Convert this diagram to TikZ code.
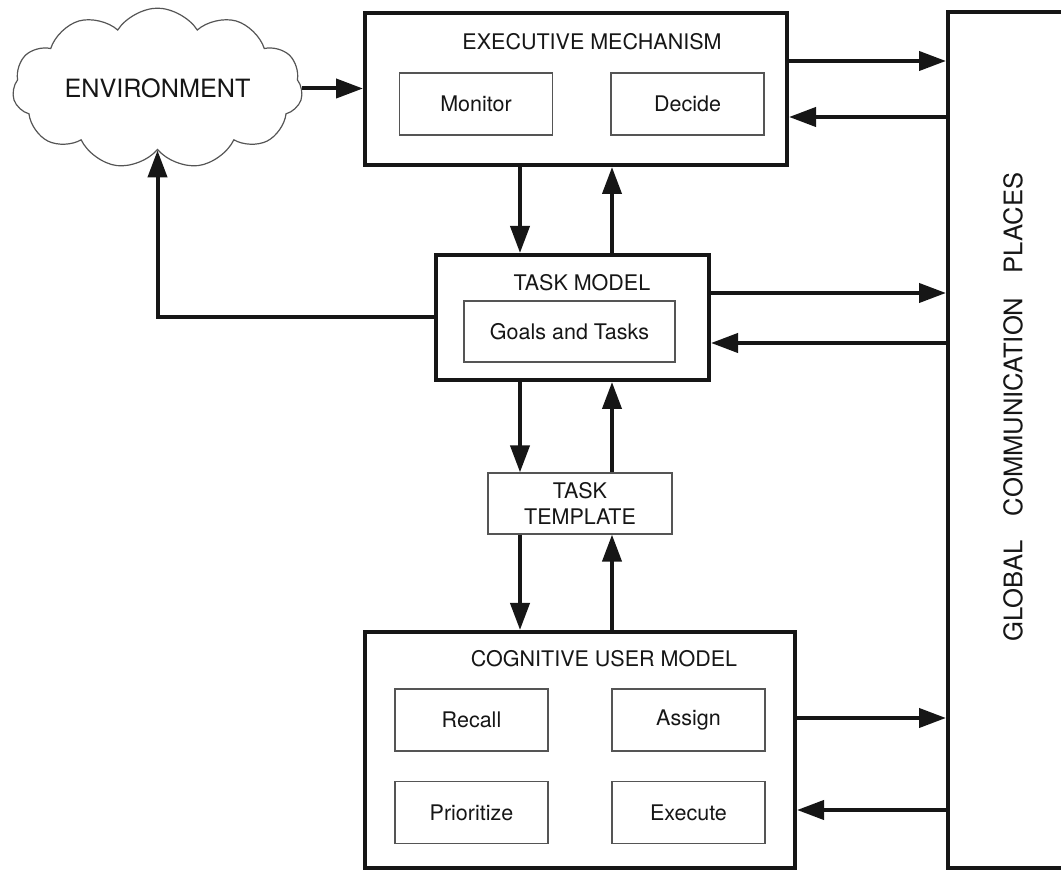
\documentclass[tikz,border=0pt]{standalone}
\usepackage{fontspec}
\setmainfont{TeX Gyre Heros}
\usetikzlibrary{shapes.symbols, arrows.meta, positioning, calc}
\definecolor{mydark}{RGB}{22,22,22}
\definecolor{mygrey}{RGB}{85,85,85}
\tikzset{
  bigbox/.style={rectangle, draw=mydark, line width=2pt, inner sep=0pt},
  smallbox/.style={rectangle, draw=mygrey, line width=0.6pt, fill=white,
    font=\fontsize{10.75}{13}\selectfont, text=mydark, inner sep=0pt,
    minimum width=76.5pt, minimum height=31pt},
  title/.style={font=\fontsize{10.75}{13}\selectfont, text=mydark, inner sep=0pt},
  arrow/.style={-{Triangle[length=13.5pt,width=9.5pt]}, line width=2pt, color=mydark},
  line/.style={line width=2pt, color=mydark}
}

\begin{document}
\begin{tikzpicture}[x=0.5pt,y=-0.5pt]
  \useasboundingbox (0,0) rectangle (1061,870);
  \clip (0,0) rectangle (1061,870);
  % Environment
  \node[cloud, draw=mygrey, line width=0.6pt, cloud puffs=11, cloud puff arc=115,
    aspect=2.1, minimum width=145pt, minimum height=70pt, inner sep=0pt,
    text=mydark, font=\fontsize{12.6}{15}\selectfont] (env) at (157.5,88.5) {ENVIRONMENT};
  % Executive mechanism
  \node[bigbox, minimum width=211pt, minimum height=76pt] (exec) at (576,89) {};
  \node[title] (exectitle) at (592,42) {EXECUTIVE MECHANISM};
  \node[smallbox] (monitor) at (476,104) {Monitor};
  \node[smallbox] (decide) at (687.5,104) {Decide};
  % Task model
  \node[bigbox, minimum width=136.5pt, minimum height=62.5pt] (task) at (572.5,317.5) {};
  \node[title] (tasktitle) at (582,283) {TASK MODEL};
  \node[smallbox, minimum width=105.5pt, minimum height=30.5pt] (goals) at (569.5,331.5) {Goals and Tasks};
  % Task template
  \node[smallbox, minimum width=92pt, minimum height=30.5pt, align=center] (template) at (580,503.5) {TASK\\TEMPLATE};
  % Cognitive user model
  \node[bigbox, minimum width=215pt, minimum height=118pt] (cog) at (580,750) {};
  \node[title] (cogtitle) at (604,659) {COGNITIVE USER MODEL};
  \node[smallbox] (recall) at (471.5,720) {Recall};
  \node[smallbox] (assign) at (688.5,720) {Assign};
  \node[smallbox] (prior) at (471.5,812.5) {Prioritize};
  \node[smallbox] (execute) at (688.5,812.5) {Execute};
  % Global communication places
  \node[bigbox, minimum width=71pt, minimum height=428pt] (gcp) at (1019,440) {};
  \node[rotate=90, inner sep=0pt, text=mydark, font=\fontsize{12.8}{15}\selectfont] (gcptext) at (1013,407)
    {GLOBAL\hspace{0.95em}COMMUNICATION\hspace{0.95em}PLACES};
  % Connectors
  \coordinate (eo) at ([yshift=14pt]exec.east);
  \coordinate (ei) at ([yshift=-14pt]exec.east);
  \coordinate (to) at ([yshift=12.25pt]task.east);
  \coordinate (ti) at ([yshift=-12.75pt]task.east);
  \coordinate (co) at ([yshift=16pt]cog.east);
  \coordinate (ci) at ([yshift=-30pt]cog.east);
  \coordinate (dl) at ([xshift=-28pt]exec.south);
  \coordinate (ur) at ([xshift=18pt]exec.south);
  \draw[arrow] (env.east) -- (env.east -| exec.west);
  \draw[arrow] (task.west) -| (env.south);
  \draw[arrow] (eo) -- (eo -| gcp.west);
  \draw[arrow] (ei -| gcp.west) -- (ei);
  \draw[arrow] (to) -- (to -| gcp.west);
  \draw[arrow] (ti -| gcp.west) -- (ti);
  \draw[arrow] (co) -- (co -| gcp.west);
  \draw[arrow] (ci -| gcp.west) -- (ci);
  \draw[arrow] (dl) -- (dl |- task.north);
  \draw[arrow] (ur |- task.north) -- (ur);
  \draw[arrow] (dl |- task.south) -- (dl |- template.north);
  \draw[arrow] (ur |- template.north) -- (ur |- task.south);
  \draw[arrow] (dl |- template.south) -- (dl |- cog.north);
  \draw[arrow] (ur |- cog.north) -- (ur |- template.south);
\end{tikzpicture}
\end{document}
